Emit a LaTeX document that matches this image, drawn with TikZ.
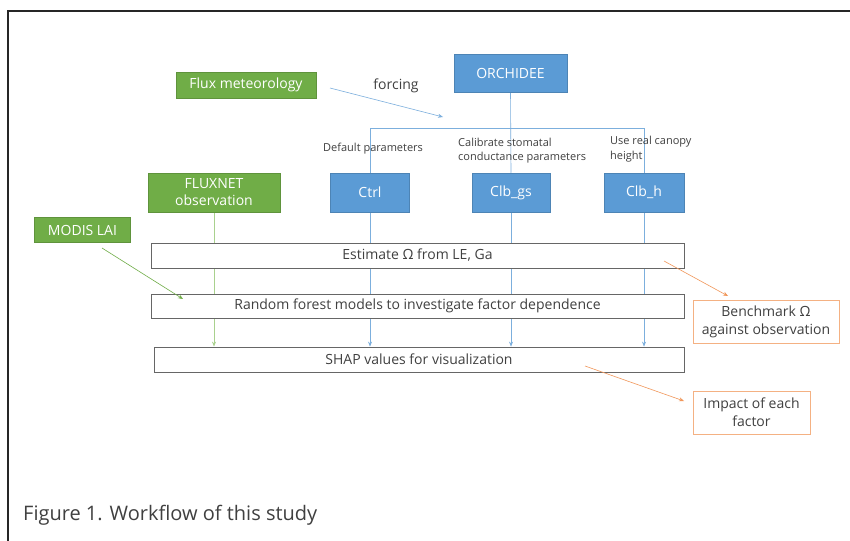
\documentclass[tikz,border=0pt]{standalone}
\usepackage{fontspec}
\setmainfont{Open Sans}
\usetikzlibrary{arrows.meta,backgrounds}
\definecolor{mblue}{HTML}{5B9BD5}
\definecolor{mgreen}{HTML}{70AD47}
\definecolor{lgreen}{HTML}{A9D18E}
\definecolor{morange}{HTML}{F4B183}
\definecolor{darrow}{HTML}{ED7D31}
\definecolor{txt}{HTML}{404040}
\tikzset{
  bluebox/.style={draw=mblue!85!black, line width=0.5pt, fill=mblue, text=white, font=\fontsize{14}{16}\selectfont, inner sep=0pt, align=center},
  greenbox/.style={draw=mgreen!85!black, line width=0.5pt, fill=mgreen, text=white, font=\fontsize{14}{16}\selectfont, inner sep=0pt, align=center},
  stagebox/.style={draw=txt!80, line width=0.8pt, fill=white, text=txt, font=\fontsize{14}{16}\selectfont, inner sep=0pt, minimum height=25pt},
  outbox/.style={draw=morange, line width=1pt, fill=white, text=txt, font=\fontsize{14}{18}\selectfont, inner sep=0pt, align=center},
  lbl/.style={text=txt, font=\fontsize{11}{14.5}\selectfont, inner sep=0pt, align=left},
  bline/.style={draw=mblue!80, line width=0.6pt},
  tip/.style={-{Stealth[length=5pt,width=4pt]}},
}
\begin{document}
\begin{tikzpicture}[x=1pt,y=-1pt]
\useasboundingbox (0,0) rectangle (850,540);
\draw[line width=2pt, black!85] (8,560) -- (8,11) -- (870,11);

% nodes
\node[bluebox, minimum width=113pt, minimum height=38pt] (orch) at (510.5,73) {ORCHIDEE};
\node[greenbox, minimum width=140pt, minimum height=26pt] (flux) at (246,85) {Flux meteorology};
\node[text=txt, font=\fontsize{14}{16}\selectfont, inner sep=0pt] (forcing) at (396,86) {forcing};
\coordinate (fstart) at (330,88);
\coordinate (fend) at (443,117);
\coordinate (bar) at (0,128);

\node[bluebox, minimum width=79pt, minimum height=39pt] (ctrl) at (370,192.5) {Ctrl};
\node[bluebox, minimum width=78pt, minimum height=39pt] (clbgs) at (511,192.5) {Clb\_gs};
\node[bluebox, minimum width=80pt, minimum height=39pt] (clbh) at (644,192.5) {Clb\_h};
\node[greenbox, minimum width=132pt, minimum height=39pt, font=\fontsize{14}{17}\selectfont] (fluxnet) at (214,192.5) {FLUXNET\\observation};
\node[greenbox, minimum width=96pt, minimum height=25pt] (modis) at (82.5,230) {MODIS LAI};

\node[lbl, anchor=west] (defp) at (323,149) {Default parameters};
\node[lbl, anchor=west] (calp) at (458,150.5) {Calibrate stomatal\\conductance parameters};
\node[lbl, anchor=west] (usep) at (610,149) {Use real canopy\\height};

\node[stagebox, minimum width=533pt] (est) at (417.5,255.5) {Estimate Ω from LE, Ga};
\node[stagebox, minimum width=533pt, minimum height=24pt] (rf) at (417.5,306) {Random forest models to investigate factor dependence};
\node[stagebox, minimum width=530pt] (shap) at (419,359.5) {SHAP values for visualization};

\node[outbox, minimum width=146pt, minimum height=43pt] (bench) at (766,321.5) {Benchmark Ω\\against observation};
\node[outbox, minimum width=117pt, minimum height=43pt] (impact) at (751.5,412.5) {Impact of each\\factor};

\node[anchor=base west, text=txt, font=\fontsize{20}{22}\selectfont, inner sep=0pt] (cap) at (23,520) {Figure 1. Workflow of this study};

\begin{pgfonlayer}{background}
  \fill[white] (0,0) rectangle (850,540);
  \draw[bline] (orch.south) -- (clbgs.north);
  \draw[bline] (ctrl.north) -- (ctrl.north |- bar) -- (clbh.north |- bar) -- (clbh.north);
  \draw[bline, tip] (ctrl.south) -- (ctrl.south |- shap.north);
  \draw[bline, tip] (clbgs.south) -- (clbgs.south |- shap.north);
  \draw[bline, tip] (clbh.south) -- (clbh.south |- shap.north);
  \draw[draw=lgreen, line width=0.8pt, tip] (fluxnet.south) -- (fluxnet.south |- shap.north);
\end{pgfonlayer}

\draw[bline, tip] (fstart) -- (fend);
\coordinate (mstart) at (102,248);
\coordinate (mend) at (183,299);
\draw[draw=mgreen, line width=0.6pt, tip] (mstart) -- (mend);
\coordinate (bstart) at (664,261);
\coordinate (bend) at (728,296);
\draw[draw=darrow!80, line width=0.6pt, tip] (bstart) -- (bend);
\coordinate (istart) at (585,366);
\coordinate (iend) at (684,401);
\draw[draw=darrow!80, line width=0.6pt, tip] (istart) -- (iend);
\end{tikzpicture}
\end{document}
